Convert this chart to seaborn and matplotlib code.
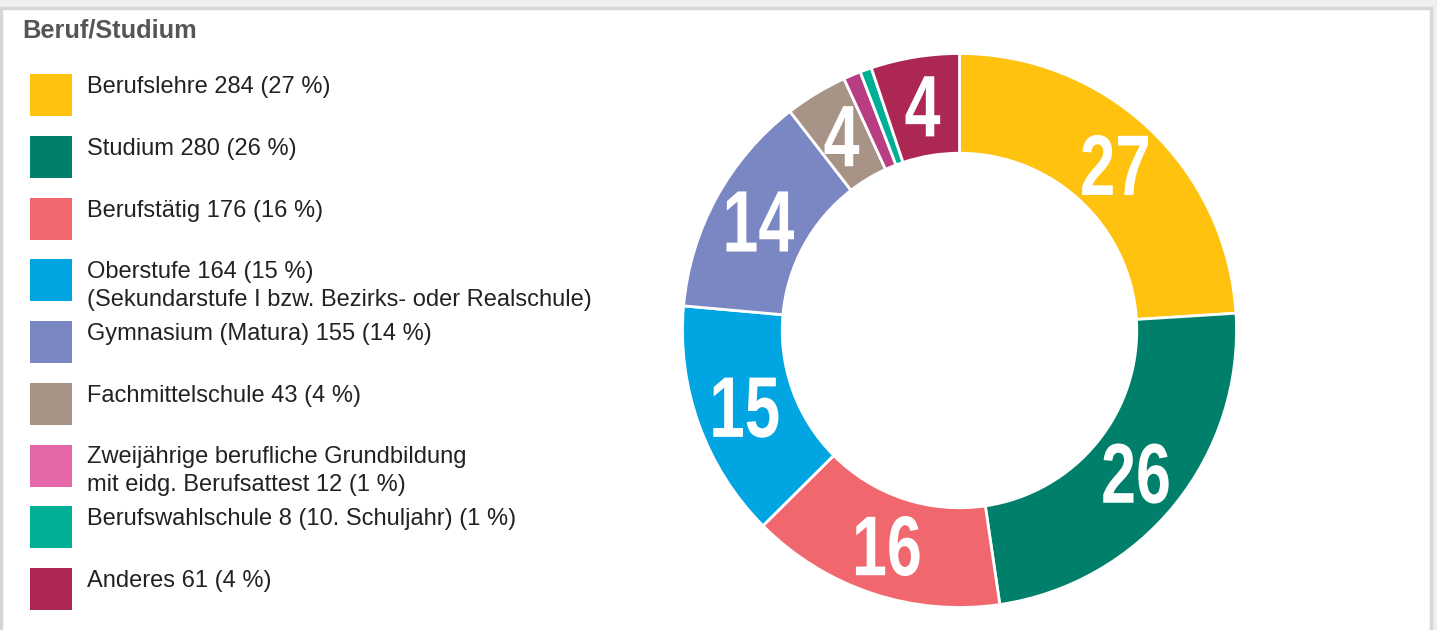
import matplotlib
matplotlib.use("Agg")
import matplotlib.pyplot as plt
from matplotlib.patches import Rectangle, PathPatch
from matplotlib.textpath import TextPath
from matplotlib.font_manager import FontProperties
from matplotlib.transforms import Affine2D
import seaborn as sns

sns.set_theme(style="white")
plt.rcParams['font.family'] = ['Liberation Sans', 'DejaVu Sans']

# Data
categories = [
    "Berufslehre 284 (27 %)",
    "Studium 280 (26 %)",
    "Berufstätig 176 (16 %)",
    "Oberstufe 164 (15 %)\n(Sekundarstufe I bzw. Bezirks- oder Realschule)",
    "Gymnasium (Matura) 155 (14 %)",
    "Fachmittelschule 43 (4 %)",
    "Zweijährige berufliche Grundbildung\nmit eidg. Berufsattest 12 (1 %)",
    "Berufswahlschule 8 (10. Schuljahr) (1 %)",
    "Anderes 61 (4 %)",
]
counts = [284, 280, 176, 164, 155, 43, 12, 8, 61]
percent_labels = ["27", "26", "16", "15", "14", "4", "", "", "4"]
slice_colors = ["#FFC20E", "#00806A", "#F0676D", "#00A5E2", "#7B87C3",
                "#A89487", "#B83D82", "#00B096", "#AD2753"]
legend_colors = ["#FFC20E", "#00806A", "#F0676D", "#00A5E2", "#7B87C3",
                 "#A89487", "#E667A7", "#00B096", "#AD2753"]

W, H = 1437, 630
fig = plt.figure(figsize=(W / 100, H / 100), dpi=100, facecolor="#F0EFED")

# white panel with grey frame
fig.patches.append(Rectangle((1 / W, -0.01), 1430 / W, (H - 8) / H + 0.01,
                             transform=fig.transFigure, facecolor="white",
                             edgecolor="#D5D6D8", linewidth=2.5, zorder=-5))

fig.text(22 / W, 1 - 31 / H, "Beruf/Studium", fontsize=18.3, fontweight="bold",
         color="#555555", ha="left", va="center")

# legend drawn by hand
for i, (lab, col) in enumerate(zip(categories, legend_colors)):
    top = 74 + i * 61.75
    fig.patches.append(Rectangle((30 / W, 1 - (top + 42) / H), 42 / W, 42 / H,
                                 transform=fig.transFigure, facecolor=col,
                                 edgecolor="none", zorder=1))
    fig.text(87 / W, 1 - (top + 2) / H, lab, fontsize=17, color="#222222",
             ha="left", va="top", linespacing=1.35)

# donut
cx, cy, r = 959.5, 330.5, 277
ax = fig.add_axes([(cx - r) / W, (H - cy - r) / H, 2 * r / W, 2 * r / H])
ax.set_zorder(2)
wedges, texts = ax.pie(counts, colors=slice_colors, startangle=90, counterclock=False,
                       labels=percent_labels, labeldistance=0.82, radius=1,
                       wedgeprops=dict(width=0.36, edgecolor="white", linewidth=2))

# condensed bold numbers: text drawn as squeezed paths at the pie's label spots
fp = FontProperties(family="Liberation Sans", weight="bold")
digit_h = 0.217   # cap height in data units (~60 px)
squeeze = 0.74
for t in texts:
    s = t.get_text()
    x, y = t.get_position()
    t.set_visible(False)
    if not s:
        continue
    tp = TextPath((0, 0), s, size=100, prop=fp)
    bb = tp.get_extents()
    k = digit_h / bb.height
    tr = (Affine2D().translate(-(bb.x0 + bb.x1) / 2, -(bb.y0 + bb.y1) / 2)
          .scale(k * squeeze, k).translate(x, y))
    ax.add_patch(PathPatch(tr.transform_path(tp), facecolor="white",
                           edgecolor="none", zorder=5))

ax.set_xlim(-1, 1)
ax.set_ylim(-1, 1)
ax.set_aspect("equal")
ax.axis("off")

fig.savefig("out.png", dpi=100, facecolor=fig.get_facecolor())
